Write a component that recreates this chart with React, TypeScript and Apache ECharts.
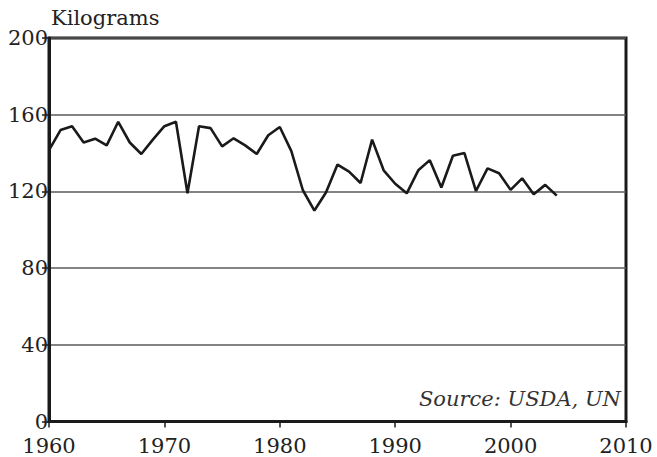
import React, { useEffect, useRef } from "react";
import * as echarts from "echarts";

const years: number[] = [
  1960, 1961, 1962, 1963, 1964, 1965, 1966, 1967, 1968, 1969,
  1970, 1971, 1972, 1973, 1974, 1975, 1976, 1977, 1978, 1979,
  1980, 1981, 1982, 1983, 1984, 1985, 1986, 1987, 1988, 1989,
  1990, 1991, 1992, 1993, 1994, 1995, 1996, 1997, 1998, 1999,
  2000, 2001, 2002, 2003, 2004,
];
const kilograms: number[] = [
  141.5, 152, 154, 145.5, 147.5, 144, 156.3, 145.5, 139.5, 147,
  154, 156.3, 119, 154, 153, 143.5, 147.7, 144, 139.5, 149.3,
  153.6, 141, 120.6, 110, 119.4, 134, 130.3, 124.4, 147, 131,
  124, 119, 131, 136.3, 122, 138.6, 140, 120.2, 132, 129.5,
  120.8, 126.8, 118.5, 123.4, 117.8,
];
const yTicks = { min: 0, max: 200, interval: 40 };
const xTicks = { min: 1960, max: 2010, interval: 10 };
const unitLabel = "Kilograms";
const sourceLabel = "Source: USDA, UN";

const FONT = "DejaVu Serif";

export default function App() {
  const ref = useRef<HTMLDivElement>(null);
  useEffect(() => {
    if (!ref.current) return;
    const chart = echarts.init(ref.current, null, { renderer: "svg" });
    chart.setOption({
      animation: false,
      backgroundColor: "#ffffff",
      textStyle: { fontFamily: FONT },
      grid: {
        left: 49,
        right: 31,
        top: 38,
        bottom: 35.5,
        show: true,
        borderColor: "#1a1a1a",
        borderWidth: 3,
        backgroundColor: "transparent",
      },
      xAxis: {
        type: "value",
        min: xTicks.min,
        max: xTicks.max,
        interval: xTicks.interval,
        axisLine: { show: true, onZero: false, lineStyle: { color: "#1a1a1a", width: 3 } },
        axisTick: { show: true, inside: false, length: 6, lineStyle: { color: "#1a1a1a", width: 1.5 } },
        axisLabel: {
          margin: 16,
          color: "#222",
          fontFamily: FONT,
          fontSize: 21,
          lineHeight: 16,
          formatter: (v: number) => String(v),
        },
        splitLine: { show: false },
      },
      yAxis: {
        type: "value",
        min: yTicks.min,
        max: yTicks.max,
        interval: yTicks.interval,
        axisLine: { show: true, lineStyle: { color: "#1a1a1a", width: 3 } },
        axisTick: { show: true, inside: false, length: 7, lineStyle: { color: "#1a1a1a", width: 1.5 } },
        axisLabel: {
          margin: 1,
          color: "#222",
          fontFamily: FONT,
          fontSize: 21,
          lineHeight: 14,
          verticalAlign: "middle",
          padding: [0, 0, 6, 0],
        },
        splitLine: { show: true, lineStyle: { color: "#5a5a5a", width: 1.5 } },
      },
      series: [
        {
          type: "line",
          data: years.map((y, i) => [y, kilograms[i]]),
          showSymbol: false,
          symbol: "none",
          lineStyle: { color: "#1a1a1a", width: 2.6 },
          z: 5,
        },
      ],
      graphic: [
        {
          type: "text",
          left: 51,
          top: 7,
          style: {
            text: unitLabel,
            fill: "#222",
            fontFamily: FONT,
            fontSize: 21,
          },
        },
        {
          type: "text",
          right: 36,
          top: 388,
          style: {
            text: sourceLabel,
            fill: "#333",
            fontFamily: FONT,
            fontStyle: "italic",
            fontSize: 21,
          },
        },
      ],
    });
    return () => chart.dispose();
  }, []);
  return <div ref={ref} style={{ width: 657, height: 457, position: "absolute", left: 0, top: 0 }} />;
}
